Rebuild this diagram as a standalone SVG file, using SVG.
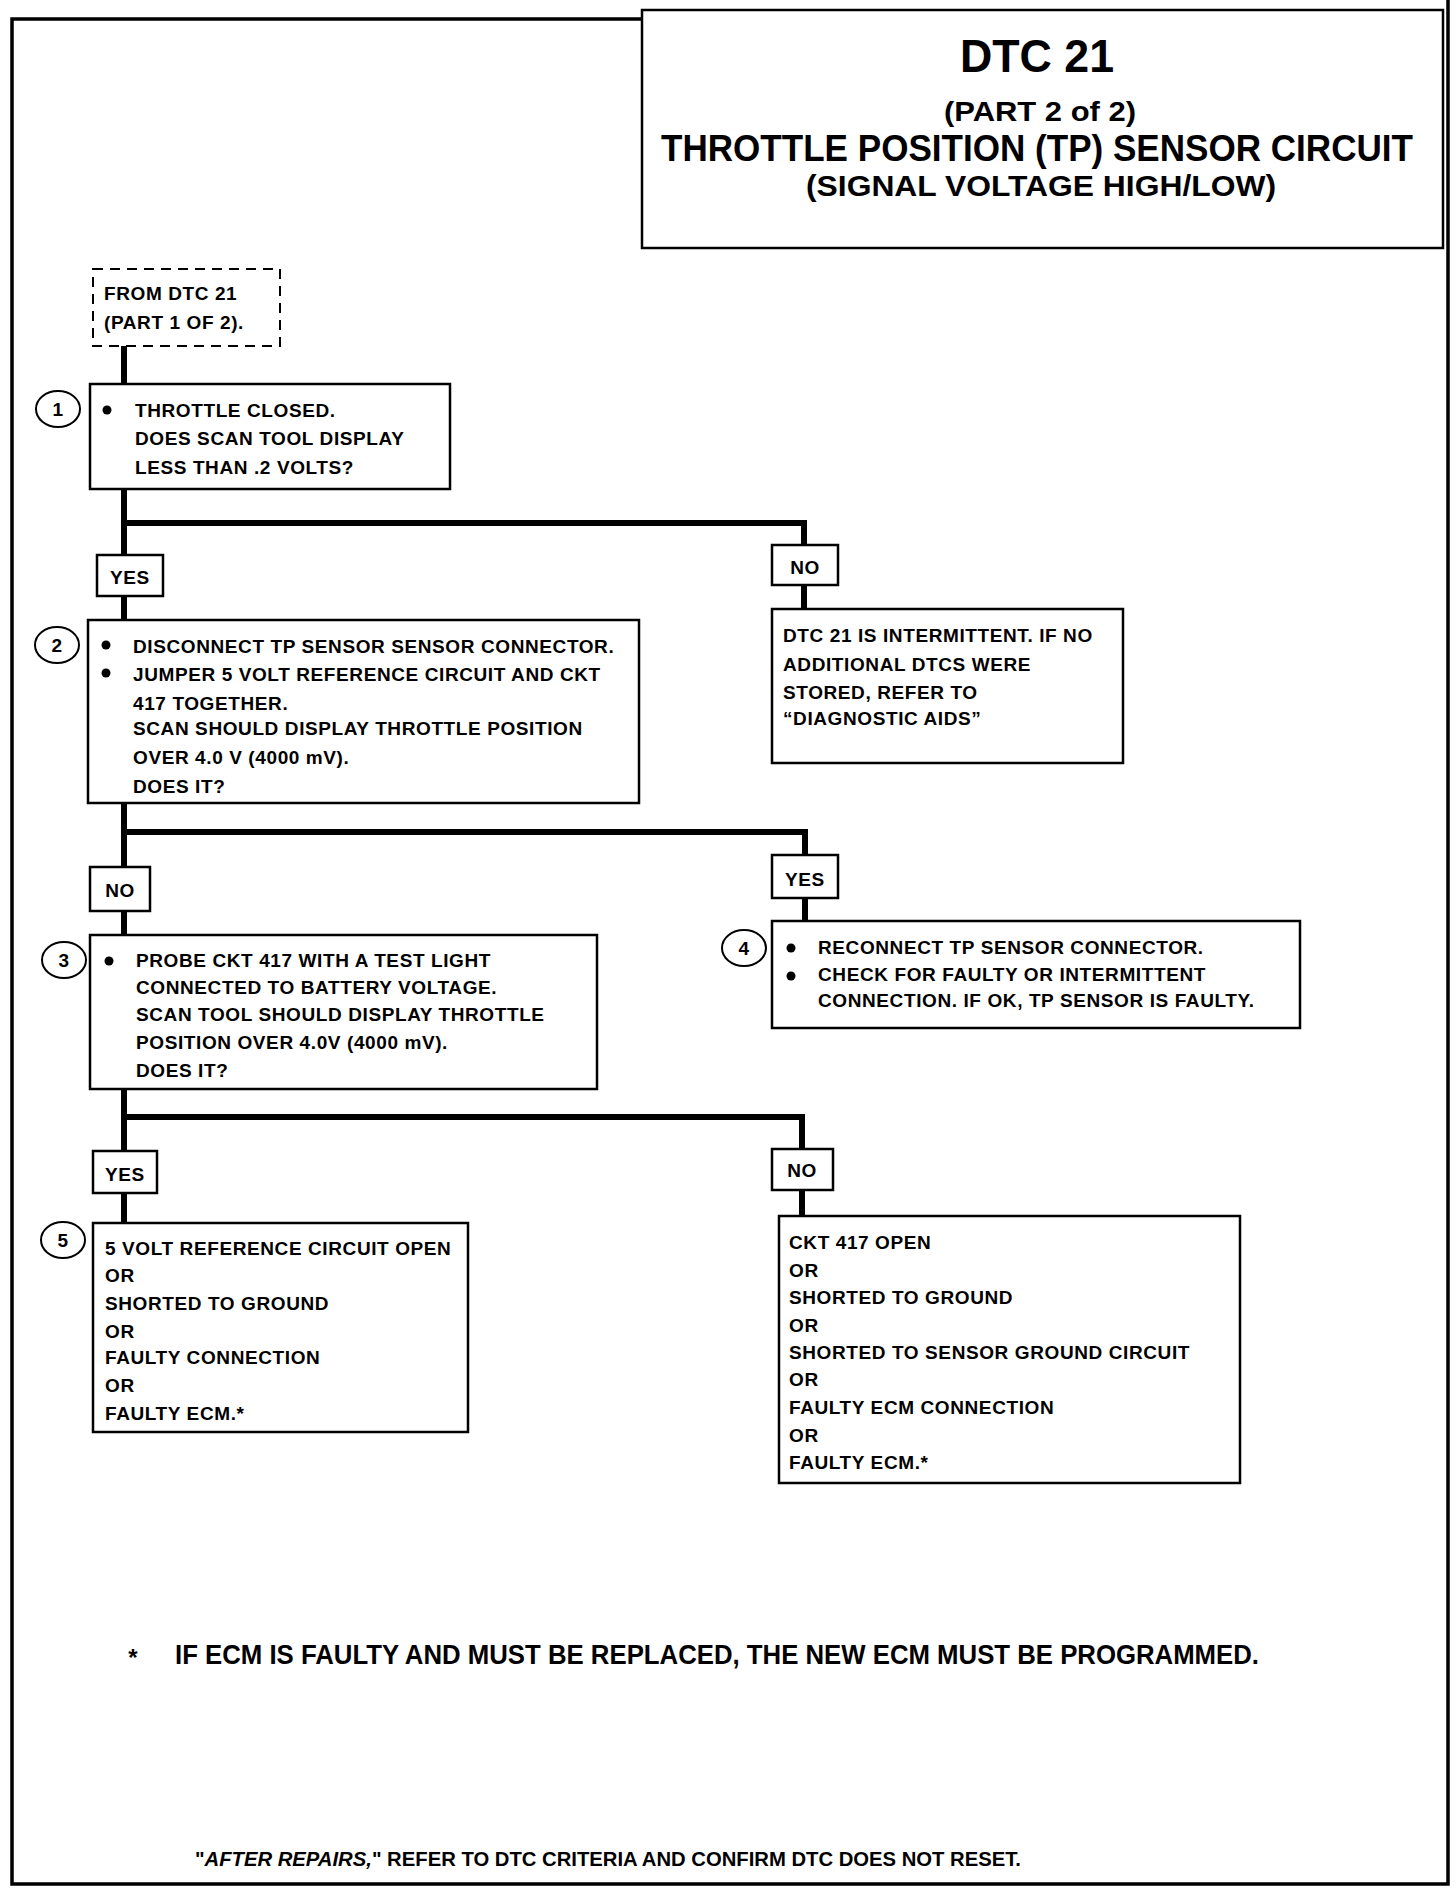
<svg xmlns="http://www.w3.org/2000/svg" width="1456" height="1890" viewBox="0 0 1456 1890">
<style>
.t{font-family:"Liberation Sans",Arial,sans-serif;font-weight:bold;font-size:19px;fill:#000;letter-spacing:0.6px}
.c{text-anchor:middle}
.box{fill:#fff;stroke:#000;stroke-width:2.5}
.lbl{fill:#fff;stroke:#000;stroke-width:2.5}
.conn{fill:none;stroke:#000;stroke-width:6;stroke-linejoin:miter;stroke-linecap:butt}
.num{fill:#fff;stroke:#000;stroke-width:2}
.ttl{font-family:"Liberation Sans",Arial,sans-serif;font-weight:bold;fill:#000;text-anchor:middle}
</style>
<rect x="0" y="0" width="1456" height="1890" fill="#fff"/>
<g id="frame" fill="none" stroke="#000" stroke-width="3.5">
<path d="M642,19 H12 V1884 H1448 V0"/>
</g>
<g id="title">
<rect x="642" y="10" width="801" height="238" fill="#fff" stroke="#000" stroke-width="2.5"/>
<text class="ttl" x="1037" y="72" font-size="46" textLength="154" lengthAdjust="spacingAndGlyphs">DTC 21</text>
<text class="ttl" x="1040" y="121" font-size="28" textLength="192" lengthAdjust="spacingAndGlyphs">(PART 2 of 2)</text>
<text class="ttl" x="1037" y="161" font-size="36" textLength="752" lengthAdjust="spacingAndGlyphs">THROTTLE POSITION (TP) SENSOR CIRCUIT</text>
<text class="ttl" x="1041" y="196" font-size="29" textLength="470" lengthAdjust="spacingAndGlyphs">(SIGNAL VOLTAGE HIGH/LOW)</text>
</g>
<g id="connectors">
<path class="conn" d="M124,346 V384"/>
<path class="conn" d="M124,489 V620"/>
<path class="conn" d="M124,523 H804 V609"/>
<path class="conn" d="M124,803 V935"/>
<path class="conn" d="M124,832 H805 V921"/>
<path class="conn" d="M124,1089 V1223"/>
<path class="conn" d="M124,1117 H802 V1216"/>
</g>
<g id="start">
<rect x="93" y="269" width="187" height="77" fill="#fff" stroke="#000" stroke-width="2" stroke-dasharray="10,7"/>
<text class="t" x="104" y="300">FROM DTC 21</text>
<text class="t" x="104" y="329">(PART 1 OF 2).</text>
</g>
<g id="step1">
<ellipse class="num" cx="58" cy="409" rx="22" ry="18"/>
<text class="t c" x="58" y="416" letter-spacing="0">1</text>
<rect class="box" x="90" y="384" width="360" height="105"/>
<circle cx="107" cy="410" r="4.5"/>
<text class="t" x="135" y="417">THROTTLE CLOSED.</text>
<text class="t" x="135" y="445">DOES SCAN TOOL DISPLAY</text>
<text class="t" x="135" y="474">LESS THAN .2 VOLTS?</text>
</g>
<g id="yes1">
<rect class="lbl" x="97" y="555" width="66" height="41"/>
<text class="t c" x="130" y="584">YES</text>
</g>
<g id="no1">
<rect class="lbl" x="772" y="545" width="66" height="40"/>
<text class="t c" x="805" y="574">NO</text>
</g>
<g id="intermittent">
<rect class="box" x="772" y="609" width="351" height="154"/>
<text class="t" x="783" y="642">DTC 21 IS INTERMITTENT.  IF NO</text>
<text class="t" x="783" y="671">ADDITIONAL DTCS WERE</text>
<text class="t" x="783" y="699">STORED, REFER TO</text>
<text class="t" x="783" y="725">“DIAGNOSTIC AIDS”</text>
</g>
<g id="step2">
<ellipse class="num" cx="57" cy="645" rx="22" ry="18"/>
<text class="t c" x="57" y="652" letter-spacing="0">2</text>
<rect class="box" x="88" y="620" width="551" height="183"/>
<circle cx="106" cy="645" r="4.5"/>
<circle cx="106" cy="673" r="4.5"/>
<text class="t" x="133" y="653">DISCONNECT TP SENSOR SENSOR CONNECTOR.</text>
<text class="t" x="133" y="681">JUMPER 5 VOLT REFERENCE CIRCUIT AND CKT</text>
<text class="t" x="133" y="710">417 TOGETHER.</text>
<text class="t" x="133" y="735">SCAN SHOULD DISPLAY THROTTLE POSITION</text>
<text class="t" x="133" y="764">OVER 4.0 V (4000 mV).</text>
<text class="t" x="133" y="793">DOES IT?</text>
</g>
<g id="no2">
<rect class="lbl" x="90" y="867" width="60" height="44"/>
<text class="t c" x="120" y="897">NO</text>
</g>
<g id="yes2">
<rect class="lbl" x="772" y="855" width="66" height="43"/>
<text class="t c" x="805" y="886">YES</text>
</g>
<g id="step4">
<ellipse class="num" cx="744" cy="948" rx="22" ry="18"/>
<text class="t c" x="744" y="955" letter-spacing="0">4</text>
<rect class="box" x="772" y="921" width="528" height="107"/>
<circle cx="791" cy="948" r="4.5"/>
<circle cx="791" cy="976" r="4.5"/>
<text class="t" x="818" y="954">RECONNECT TP SENSOR CONNECTOR.</text>
<text class="t" x="818" y="981">CHECK FOR FAULTY OR INTERMITTENT</text>
<text class="t" x="818" y="1007">CONNECTION.  IF OK, TP SENSOR IS FAULTY.</text>
</g>
<g id="step3">
<ellipse class="num" cx="64" cy="960" rx="22" ry="18"/>
<text class="t c" x="64" y="967" letter-spacing="0">3</text>
<rect class="box" x="90" y="935" width="507" height="154"/>
<circle cx="109" cy="961" r="4.5"/>
<text class="t" x="136" y="967">PROBE CKT 417 WITH A TEST LIGHT</text>
<text class="t" x="136" y="994">CONNECTED TO BATTERY VOLTAGE.</text>
<text class="t" x="136" y="1021">SCAN TOOL SHOULD DISPLAY THROTTLE</text>
<text class="t" x="136" y="1049">POSITION OVER 4.0V (4000 mV).</text>
<text class="t" x="136" y="1077">DOES IT?</text>
</g>
<g id="yes3">
<rect class="lbl" x="93" y="1151" width="64" height="42"/>
<text class="t c" x="125" y="1181">YES</text>
</g>
<g id="no3">
<rect class="lbl" x="772" y="1149" width="61" height="41"/>
<text class="t c" x="802" y="1177">NO</text>
</g>
<g id="step5">
<ellipse class="num" cx="63" cy="1240" rx="22" ry="18"/>
<text class="t c" x="63" y="1247" letter-spacing="0">5</text>
<rect class="box" x="93" y="1223" width="375" height="209"/>
<text class="t" x="105" y="1255">5 VOLT REFERENCE CIRCUIT OPEN</text>
<text class="t" x="105" y="1282">OR</text>
<text class="t" x="105" y="1310">SHORTED TO GROUND</text>
<text class="t" x="105" y="1338">OR</text>
<text class="t" x="105" y="1364">FAULTY CONNECTION</text>
<text class="t" x="105" y="1392">OR</text>
<text class="t" x="105" y="1420">FAULTY ECM.*</text>
</g>
<g id="ckt417">
<rect class="box" x="779" y="1216" width="461" height="267"/>
<text class="t" x="789" y="1249">CKT 417 OPEN</text>
<text class="t" x="789" y="1277">OR</text>
<text class="t" x="789" y="1304">SHORTED TO GROUND</text>
<text class="t" x="789" y="1332">OR</text>
<text class="t" x="789" y="1359">SHORTED TO SENSOR GROUND CIRCUIT</text>
<text class="t" x="789" y="1386">OR</text>
<text class="t" x="789" y="1414">FAULTY ECM CONNECTION</text>
<text class="t" x="789" y="1442">OR</text>
<text class="t" x="789" y="1469">FAULTY ECM.*</text>
</g>
<g id="notes">
<text class="ttl" x="133" y="1666" font-size="24">*</text>
<text x="175" y="1664" font-family="Liberation Sans, Arial, sans-serif" font-weight="bold" font-size="27" textLength="1084" lengthAdjust="spacingAndGlyphs">IF ECM IS FAULTY AND MUST BE REPLACED, THE NEW ECM MUST BE PROGRAMMED.</text>
<text x="195" y="1866" font-family="Liberation Sans, Arial, sans-serif" font-weight="bold" font-size="20" textLength="826" lengthAdjust="spacingAndGlyphs">"<tspan font-style="italic">AFTER REPAIRS,</tspan>" REFER TO DTC CRITERIA AND CONFIRM DTC DOES NOT RESET.</text>
</g>
</svg>
